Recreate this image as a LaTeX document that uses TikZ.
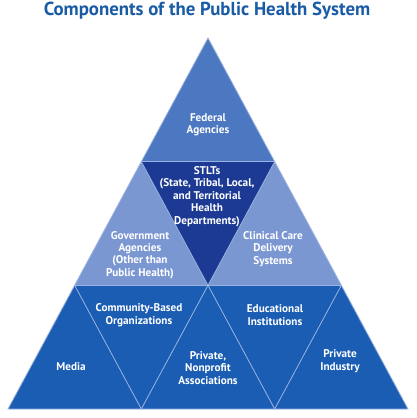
\documentclass[tikz,border=0pt]{standalone}
\usepackage{fontspec}
\setmainfont{PT Sans}
\usepackage{tikz}
\usepackage{color}
\definecolor{titleblue}{HTML}{1A5BA6}
\definecolor{topblue}{HTML}{4C77C1}
\definecolor{lightblue}{HTML}{7B97D2}
\definecolor{navy}{HTML}{1C3A94}
\definecolor{royal}{HTML}{1A5DB3}
\definecolor{edgeblue}{HTML}{9AB2E0}
\tikzstyle{tri} = [draw=edgeblue,line width=0.8pt,line join=miter]
\tikzstyle{lbl} = [text=white,align=center,font=\bfseries\fontsize{11.2}{12.4}\selectfont]

\begin{document}
\begin{tikzpicture}[x=1pt,y=-1pt]
\useasboundingbox[fill=white] (0,0) rectangle (416,418);

\node[text=titleblue,font=\bfseries\fontsize{18.8}{22}\selectfont] (title) at (207,10.5) {Components of the Public Health System};

% corner points, row by row
\foreach \r in {0,...,3}
{
 \foreach \k in {0,...,\r}
 {
  \coordinate (v\r\k) at ({208+66.67*(2*\k-\r)},{38+123.67*\r});
 }
}

% upright pieces
\fill[topblue] (v00) -- (v10) -- (v11) -- cycle;
\fill[lightblue] (v10) -- (v20) -- (v21) -- cycle;
\fill[lightblue] (v11) -- (v21) -- (v22) -- cycle;
\foreach \k in {0,1,2}
{
 \pgfmathtruncatemacro{\kk}{\k+1}
 \fill[royal] (v2\k) -- (v3\k) -- (v3\kk) -- cycle;
}

% upside-down pieces
\fill[navy] (v10) -- (v11) -- (v21) -- cycle;
\foreach \k in {0,1}
{
 \pgfmathtruncatemacro{\kk}{\k+1}
 \fill[royal] (v2\k) -- (v2\kk) -- (v3\kk) -- cycle;
}

% thin light edges
\draw[tri] (v10) -- (v11);
\draw[tri] (v20) -- (v22);
\draw[tri] (v10) -- (v21) -- (v11);
\draw[tri] (v20) -- (v31) -- (v21) -- (v32) -- (v22);
\draw[tri] (v00) -- (v30) -- (v33) -- cycle;

\node[lbl] (federal) at (208,125) {Federal\\Agencies};
\node[lbl] (stlts) at (207,196.5) {STLTs\\(State, Tribal, Local,\\and Territorial\\Health\\Departments)};
\node[lbl] (gov) at (140,255) {Government\\Agencies\\(Other than\\Public Health)};
\node[lbl] (clinical) at (273,249) {Clinical Care\\Delivery\\Systems};
\node[lbl] (community) at (139,315) {Community-Based\\Organizations};
\node[lbl] (educ) at (275,315) {Educational\\Institutions};
\node[lbl] (media) at (71,367) {Media};
\node[lbl] (nonprofit) at (208,368) {Private,\\Nonprofit\\Associations};
\node[lbl] (industry) at (340,361) {Private\\Industry};

\end{tikzpicture}
\end{document}
